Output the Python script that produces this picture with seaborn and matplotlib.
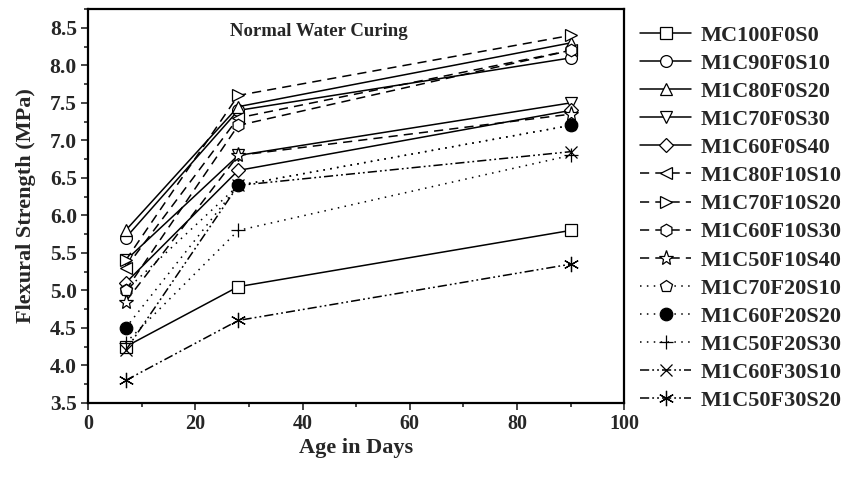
import matplotlib
matplotlib.use("Agg")
import matplotlib.pyplot as plt
from matplotlib.ticker import MultipleLocator
import seaborn as sns
import pandas as pd

# Curing ages (days) and flexural strength of each mix (MPa)
days = [7, 28, 90]
mixes = [
    "MC100F0S0", "M1C90F0S10", "M1C80F0S20", "M1C70F0S30", "M1C60F0S40",
    "M1C80F10S10", "M1C70F10S20", "M1C60F10S30", "M1C50F10S40",
    "M1C70F20S10", "M1C60F20S20", "M1C50F20S30",
    "M1C60F30S10", "M1C50F30S20",
]
mc100f0s0 = [4.25, 5.05, 5.8]
m1c90f0s10 = [5.7, 7.4, 8.1]
m1c80f0s20 = [5.8, 7.45, 8.3]
m1c70f0s30 = [5.4, 6.8, 7.5]
m1c60f0s40 = [5.1, 6.6, 7.4]
m1c80f10s10 = [5.3, 7.3, 8.2]
m1c70f10s20 = [5.4, 7.6, 8.4]
m1c60f10s30 = [5.0, 7.2, 8.2]
m1c50f10s40 = [4.85, 6.8, 7.35]
m1c70f20s10 = [5.0, 6.4, 7.2]
m1c60f20s20 = [4.5, 6.4, 7.2]
m1c50f20s30 = [4.3, 5.8, 6.8]
m1c60f30s10 = [4.2, 6.4, 6.85]
m1c50f30s20 = [3.8, 4.6, 5.35]
strengths = [
    mc100f0s0, m1c90f0s10, m1c80f0s20, m1c70f0s30, m1c60f0s40,
    m1c80f10s10, m1c70f10s20, m1c60f10s30, m1c50f10s40,
    m1c70f20s10, m1c60f20s20, m1c50f20s30,
    m1c60f30s10, m1c50f30s20,
]

df = pd.DataFrame(
    [(m, d, v) for m, vals in zip(mixes, strengths) for d, v in zip(days, vals)],
    columns=["mix", "day", "strength"],
)

sns.set_theme(style="white")
plt.rcParams["font.family"] = ["Liberation Serif", "DejaVu Serif"]
plt.rcParams["font.weight"] = "bold"

solid = "-"
dashed = (0, (6, 4))
dotted = (0, (1, 3.5))
dashdotdot = (0, (6, 2, 1.2, 2, 1.2, 2))

markers = ["s", "o", "^", "v", "D", "<", ">", "h", "*", "p", "o", "+", "x", (6, 2, 0)]
msizes = [8, 8.5, 9, 9, 7, 9, 9, 9, 11, 9, 9, 10, 9, 11]
styles = [solid] * 5 + [dashed] * 4 + [dotted] * 3 + [dashdotdot] * 2

fig = plt.figure(figsize=(8.47, 4.82), dpi=100)
ax = fig.add_axes([0.104, 0.164, 0.633, 0.817])

for i, name in enumerate(mixes):
    sub = df[df["mix"] == name]
    face = "black" if name == "M1C60F20S20" else "white"
    line = sns.lineplot(
        data=sub, x="day", y="strength", ax=ax, color="black", lw=1.1,
        marker=markers[i], markersize=msizes[i], markerfacecolor=face,
        markeredgecolor="black", markeredgewidth=0.9, label=name,
    ).lines[-1]
    line.set_linestyle(styles[i])

ax.set_xlim(0, 100)
ax.set_ylim(3.5, 8.75)
ax.xaxis.set_major_locator(MultipleLocator(20))
ax.xaxis.set_minor_locator(MultipleLocator(10))
ax.yaxis.set_major_locator(MultipleLocator(0.5))
ax.yaxis.set_minor_locator(MultipleLocator(0.25))
ax.tick_params(which="both", direction="out", bottom=True, left=True,
               top=False, right=False, width=1.2, pad=3)
ax.tick_params(axis="x", labelsize=14.5)
ax.tick_params(axis="y", labelsize=15.5)
ax.tick_params(which="major", length=5)
ax.tick_params(which="minor", length=3)
for lab in ax.get_xticklabels() + ax.get_yticklabels():
    lab.set_fontweight("bold")
for sp in ax.spines.values():
    sp.set_linewidth(1.6)
    sp.set_color("black")

ax.set_xlabel("Age in Days", fontsize=16, fontweight="bold", labelpad=3)
ax.set_ylabel("Flexural Strength (MPa)", fontsize=16, fontweight="bold", labelpad=10)
ax.text(0.43, 0.942, "Normal Water Curing", transform=ax.transAxes,
        ha="center", va="center", fontsize=13.5, fontweight="bold")

handles, labels = ax.get_legend_handles_labels()
ax.get_legend().remove()
fig.legend(handles, labels, loc="upper left", bbox_to_anchor=(0.7556, 0.948),
           frameon=False, borderpad=0, borderaxespad=0, handlelength=2.3,
           handletextpad=0.45, labelspacing=0.34,
           prop={"size": 16, "weight": "bold"})

fig.savefig("out.png", dpi=100)
